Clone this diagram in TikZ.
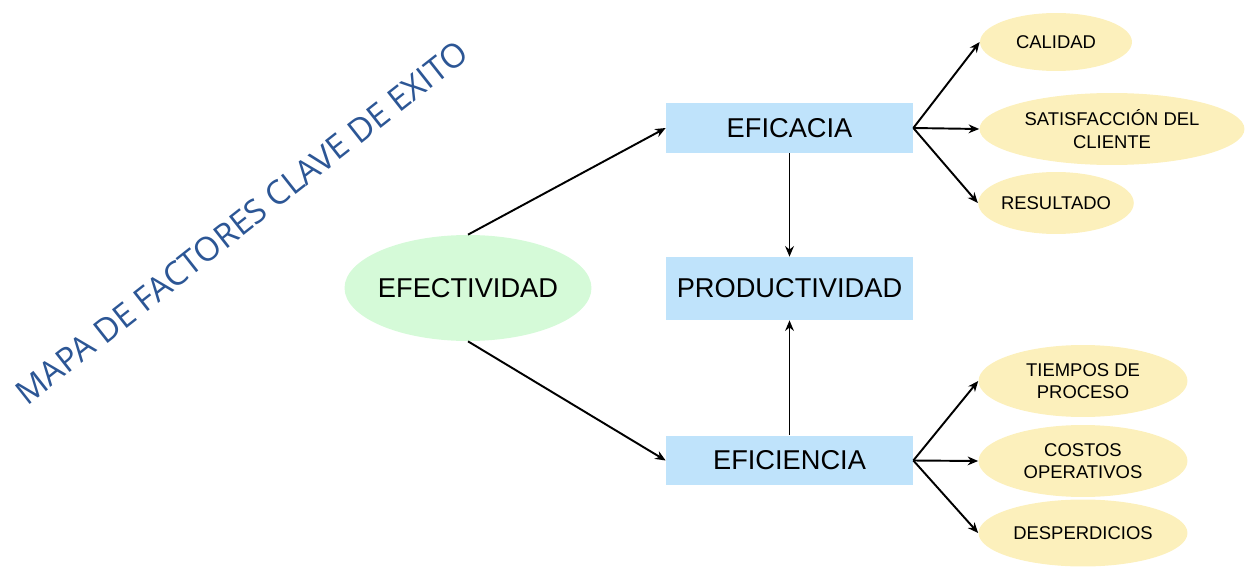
\documentclass[tikz,border=0pt]{standalone}
\usepackage{fontspec}
\setmainfont{Liberation Sans}
\newfontfamily\titlefont{Open Sans}
\usetikzlibrary{shapes.geometric,arrows.meta}
\definecolor{boxblue}{HTML}{BFE3FB}
\definecolor{effgreen}{HTML}{D5FAD8}
\definecolor{leafyellow}{HTML}{FCF0BC}
\definecolor{titleblue}{HTML}{2C5695}

\begin{document}
\begin{tikzpicture}[x=0.02cm, y=-0.02cm,
  mainbox/.style={fill=boxblue, minimum width=4.94cm, minimum height=1cm, inner sep=0pt, font=\fontsize{15.5}{18}\selectfont},
  rootoval/.style={ellipse, fill=effgreen, minimum width=4.94cm, minimum height=2.12cm, inner ysep=0pt, inner xsep=-2pt, font=\fontsize{15.5}{18}\selectfont},
  leaf/.style={ellipse, fill=leafyellow, inner sep=0pt, align=center, font=\fontsize{10.5}{12.9}\selectfont},
  link/.style={-{Stealth[length=6pt,width=5pt]}, line width=1.1pt}]
  \useasboundingbox (0,0) rectangle (1254,571);
  \node[rotate=38.2, text=titleblue, inner sep=0pt, font=\titlefont\fontsize{18.9}{20}\selectfont] (title) at (241.5,222.5) {MAPA DE FACTORES CLAVE DE EXITO};
  % central part
  \node[rootoval] (efec) at (468,288) {EFECTIVIDAD};
  \node[mainbox] (efic) at (789.5,128) {EFICACIA};
  \node[mainbox, minimum height=1.26cm] (prod) at (789.5,288.5) {PRODUCTIVIDAD};
  \node[mainbox] (efin) at (789.5,460.5) {EFICIENCIA};
  % leaves
  \node[leaf, minimum width=3.04cm, minimum height=1.16cm] (cal) at (1056,42) {CALIDAD};
  \node[leaf, minimum width=5.3cm, minimum height=1.44cm] (sat) at (1112,129) {SATISFACCIÓN DEL\\CLIENTE};
  \node[leaf, minimum width=3.04cm, minimum height=1.24cm] (res) at (1056,203) {RESULTADO};
  \node[leaf, minimum width=4.18cm, minimum height=1.44cm] (tie) at (1083,381) {TIEMPOS DE\\PROCESO};
  \node[leaf, minimum width=4.18cm, minimum height=1.44cm] (cos) at (1083,461) {COSTOS\\OPERATIVOS};
  \node[leaf, minimum width=4.18cm, minimum height=1.34cm] (des) at (1083,533) {DESPERDICIOS};
  % arrows
  \draw[link] (efec.north) -- (efic.west);
  \draw[link] (efec.south) -- (efin.west);
  \draw[link] (efic.south) -- (prod.north);
  \draw[link] (efin.north) -- (prod.south);
  \foreach \t in {cal,sat,res}
    \draw[link] (efic.east) -- (\t.west);
  \foreach \t in {tie,cos,des}
    \draw[link] (efin.east) -- (\t.west);
\end{tikzpicture}
\end{document}
